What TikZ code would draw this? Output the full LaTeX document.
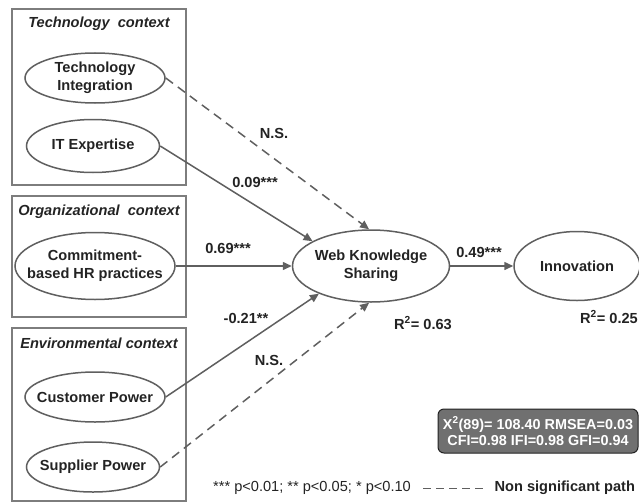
\documentclass[tikz,border=0pt]{standalone}
\usepackage{fontspec}
\setmainfont{Liberation Sans}
\usetikzlibrary{shapes.geometric,arrows.meta}
\definecolor{ink}{RGB}{35,35,35}
\definecolor{pathgray}{RGB}{95,95,95}
\definecolor{boxgray}{RGB}{125,125,125}
\definecolor{fitgray}{RGB}{112,112,112}
\begin{document}
\begin{tikzpicture}[x = 1pt, y = -1pt, line width = 1.5pt,
                        var/.style = {ellipse, draw = pathgray, fill = white, inner xsep = -14pt, inner ysep = 0pt,
                                      align = center, text = ink, font = \fontsize{14.6}{18}\selectfont\bfseries},
                        ctx/.style = {draw = boxgray, line width = 2pt},
                        title/.style = {text = ink, font = \fontsize{14.6}{18}\selectfont\bfseries\itshape},
                        coef/.style = {text = ink, font = \fontsize{14.6}{18}\selectfont\bfseries},
                        sig/.style = {draw = pathgray, -{Triangle[length = 9pt, width = 8pt]}},
                        nonsig/.style = {sig, dash pattern = on 9pt off 6pt}]
      \useasboundingbox (0, 0) rectangle (639, 503);
      % context boxes
      \draw [ctx] (12, 9) rectangle (186, 185);
      \draw [ctx] (12, 196) rectangle (186, 317);
      \draw [ctx] (12, 328) rectangle (186, 501);
      \node [title] (t1) at (99, 24){Technology\ \ context};
      \node [title] (t2) at (99, 212){Organizational\ \ context};
      \node [title] (t3) at (99, 343){Environmental context};
      % constructs
      \node [var, minimum width = 140pt, minimum height = 50pt] (ti) at (95, 78){Technology\\Integration};
      \node [var, minimum width = 133pt, minimum height = 53pt] (it) at (93, 146){IT Expertise};
      \node [var, minimum width = 160pt, minimum height = 67pt] (hr) at (95, 266){Commitment-\\based HR practices};
      \node [var, minimum width = 140pt, minimum height = 50pt] (cp) at (95, 397){Customer Power};
      \node [var, minimum width = 133pt, minimum height = 50pt] (sp) at (93, 467){Supplier Power};
      \node [var, minimum width = 157pt, minimum height = 72pt] (wks) at (371, 266){Web Knowledge\\Sharing};
      \node [var, minimum width = 126pt, minimum height = 69pt] (inno) at (577, 266){Innovation};
      % paths
      \draw [nonsig] (ti.east) -- (wks.93);
      \draw [sig] (it.east) -- (wks.157);
      \draw [sig] (hr.east) -- (wks.west);
      \draw [sig] (cp.east) -- (wks.208);
      \draw [nonsig] (sp.east) -- (wks.267);
      \draw [sig] (wks.east) -- (inno.west);
      % estimates
      \node [coef] (c1) at (274, 133){N.S.};
      \node [coef] (c2) at (255, 182){0.09***};
      \node [coef] (c3) at (228, 248){0.69***};
      \node [coef] (c4) at (246, 318){-0.21**};
      \node [coef] (c5) at (269, 360){N.S.};
      \node [coef] (c6) at (479, 252){0.49***};
      \node [coef] (r1) at (423, 323){R\textsuperscript{2}= 0.63};
      \node [coef] (r2) at (609, 317){R\textsuperscript{2}= 0.25};
      % fit and legend
      \node [draw = ink, line width = 1pt, fill = fitgray, rounded corners = 6pt, text = white, align = center,
             inner sep = 0pt, minimum width = 200pt, minimum height = 44pt,
             font = \fontsize{14.4}{16}\selectfont\bfseries] (fit) at (538, 431)
            {X\textsuperscript{2}(89)= 108.40 RMSEA=0.03\\CFI=0.98 IFI=0.98 GFI=0.94};
      \node [text = ink, font = \fontsize{14.6}{18}\selectfont] (key) at (312, 488){*** p<0.01; ** p<0.05; * p<0.10};
      \coordinate (d1) at (423, 488);
      \coordinate (d2) at (487, 488);
      \draw [draw = pathgray, line width = 1pt, dash pattern = on 8pt off 5pt] (d1) -- (d2);
      \node [coef, anchor = east] (ns) at (639, 488){Non significant path};
    \end{tikzpicture}
\end{document}
